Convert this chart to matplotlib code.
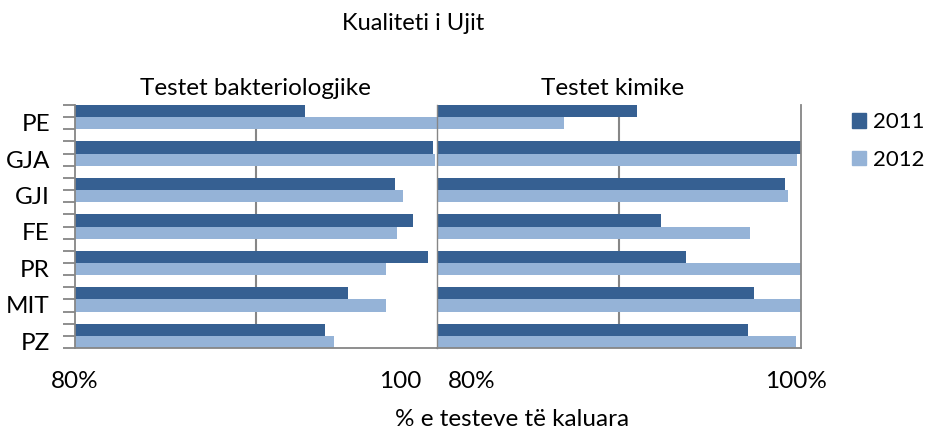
"""
Kualiteti i Ujit - two panel horizontal bar chart
"""

import numpy as np
import matplotlib
matplotlib.use("Agg")
import matplotlib.pyplot as plt
from matplotlib.patches import Patch

plt.rcParams['font.family'] = ['Lato', 'DejaVu Sans']

# data (percent of tests passed)
categories = ['PE', 'GJA', 'GJI', 'FE', 'PR', 'MIT', 'PZ']
years = ['2011', '2012']
bakt_2011 = [92.7, 99.8, 97.7, 98.7, 99.5, 95.1, 93.8]
bakt_2012 = [100.0, 99.9, 98.1, 97.8, 97.2, 97.2, 94.3]
kim_2011 = [91.0, 100.0, 99.1, 92.3, 93.7, 97.4, 97.1]
kim_2012 = [87.0, 99.8, 99.3, 97.2, 100.0, 100.0, 99.7]

panel_titles = ['Testet bakteriologjike', 'Testet kimike']
left_tick_labels = ['80%', '100']
right_tick_labels = ['80%', '100%']

dark = '#366092'
light = '#95B3D7'
grey = '#868686'
fs = 17.5

W, H = 927, 430
fig = plt.figure(figsize=(W / 100, H / 100), dpi=100)

ax1 = fig.add_axes([75 / W, 1 - 348 / H, 362 / W, 243 / H])
ax2 = fig.add_axes([437 / W, 1 - 348 / H, 364 / W, 243 / H])

# each category takes 3 slots: 2011 bar, 2012 bar, empty gap
pos = np.arange(len(categories)) * 3

for ax, v11, v12 in [(ax1, bakt_2011, bakt_2012), (ax2, kim_2011, kim_2012)]:
    ax.barh(pos + 0.5, v11, height=1.0, color=dark, zorder=2)
    ax.barh(pos + 1.5, v12, height=1.0, color=light, zorder=2)
    ax.set_xlim(80, 100)
    ax.set_ylim(3 * len(categories) - 1, 0)
    ax.axvline(90, color=grey, lw=1.5, zorder=1)
    ax.set_xticks([])
    ax.spines['top'].set_visible(False)
    for s in ['left', 'bottom', 'right']:
        ax.spines[s].set_color(grey)
        ax.spines[s].set_linewidth(1.3)

# left panel: category ticks
ax1.spines['right'].set_visible(False)
ax1.set_yticks(pos + 1.45)
ax1.set_yticklabels(categories, fontsize=fs)
ax1.set_yticks(np.arange(0, 3 * len(categories)), minor=True)
ax1.tick_params(axis='y', which='major', length=0, pad=18)
ax1.tick_params(axis='y', which='minor', length=9, width=1.3, color=grey)
ax2.set_yticks([])
ax2.spines['left'].set_linewidth(1.0)

# x labels placed like the original
for ax, xs, labels in [(ax1, [80, 97.95], left_tick_labels),
                       (ax2, [81.9, 99.7], right_tick_labels)]:
    for x, lab in zip(xs, labels):
        ax.annotate(lab, xy=(x, 0), xycoords=ax.get_xaxis_transform(),
                    xytext=(0, -40), textcoords='offset pixels',
                    ha='center', va='baseline', fontsize=fs)

fig.text(255 / W, 1 - 95 / H, panel_titles[0], ha='center', va='baseline', fontsize=fs)
fig.text(613 / W, 1 - 95 / H, panel_titles[1], ha='center', va='baseline', fontsize=fs)
fig.text(413 / W, 1 - 30 / H, 'Kualiteti i Ujit', ha='center', va='baseline', fontsize=17)
fig.text(512 / W, 1 - 426 / H, '% e testeve të kaluara', ha='center', va='baseline', fontsize=fs)

handles = [Patch(color=dark), Patch(color=light)]
fig.legend(handles, years, loc='upper left', bbox_to_anchor=(852 / W, 1 - 112 / H),
           frameon=False, fontsize=16, handlelength=0.65, handleheight=0.65,
           handletextpad=0.3, labelspacing=0.8, borderpad=0, borderaxespad=0)

fig.savefig('out.png', dpi=100)
